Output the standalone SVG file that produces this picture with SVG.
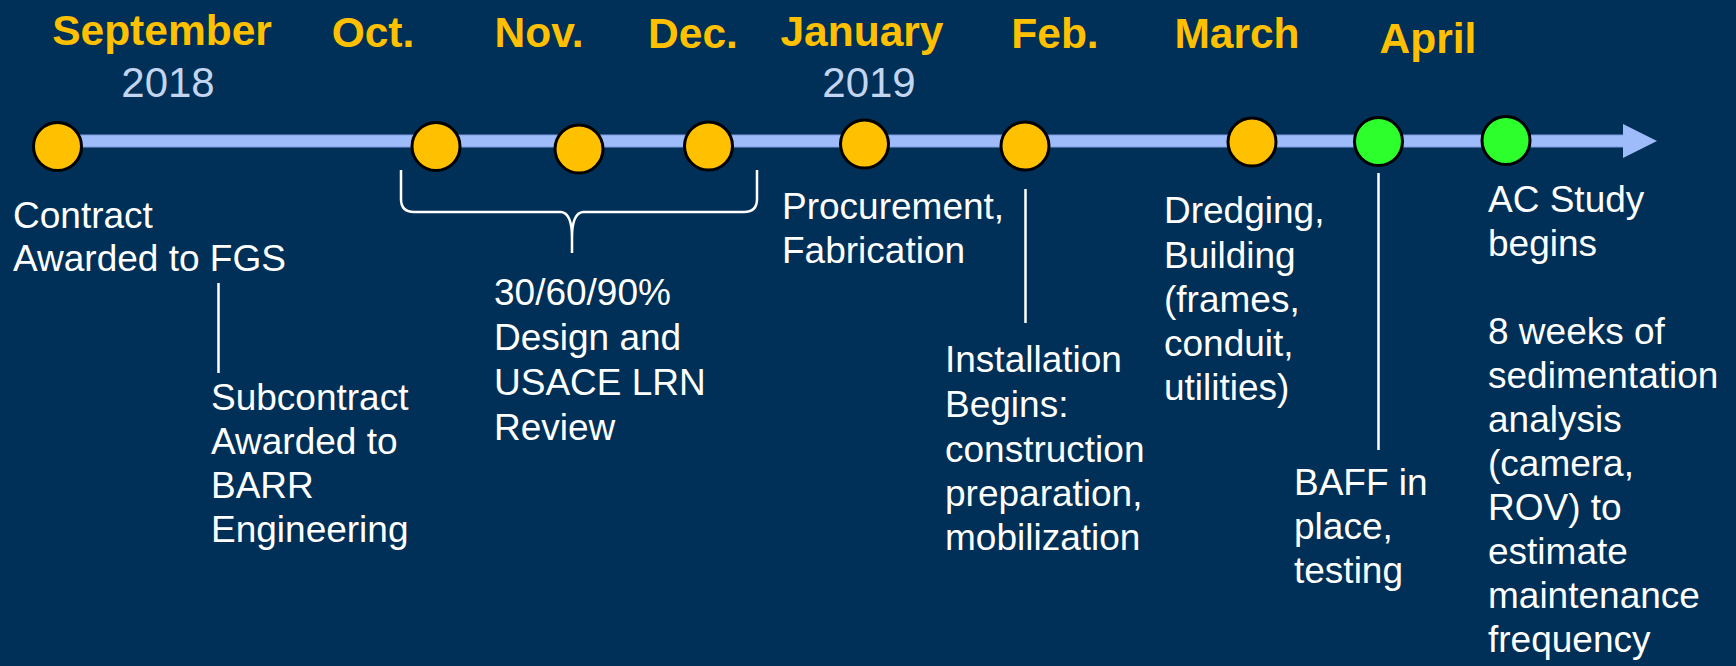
<svg xmlns="http://www.w3.org/2000/svg" width="1736" height="666" viewBox="0 0 1736 666">
  <style>
    .month { font-family: "Liberation Sans", Arial, sans-serif; font-weight: bold; font-size: 42.5px; fill: #FFC000; text-anchor: middle; }
    .year { font-family: "Liberation Sans", Arial, sans-serif; font-size: 42px; fill: #C3D5F1; text-anchor: middle; }
    .lbl { font-family: "Liberation Sans", Arial, sans-serif; font-size: 37px; fill: #FFFFFF; }
    .dot { stroke: #000000; stroke-width: 3; }
    .gold { fill: #FFC000; }
    .green { fill: #2CFF2C; }
    .conn { stroke: #FFFFFF; stroke-width: 2.5; fill: none; }
  </style>
  <rect x="0" y="0" width="1736" height="666" fill="#003057"/>

  <g id="timeline">
    <rect x="57" y="135" width="1567" height="12" fill="#9EBBFA" stroke="#7E9DE2" stroke-width="1"/>
    <polygon points="1623,124 1657,141 1623,158" fill="#9EBBFA"/>
  </g>

  <g id="connectors">
    <line class="conn" x1="218.5" y1="283" x2="218.5" y2="373"/>
    <path class="conn" d="M401,170 V199 Q401,212 414,212 H561 Q572,213 572,238 V253 M572,238 Q572,213 583,212 H744 Q757,212 757,199 V170"/>
    <line class="conn" x1="1025.5" y1="189" x2="1025.5" y2="323"/>
    <line class="conn" x1="1378.5" y1="173" x2="1378.5" y2="450"/>
  </g>

  <g id="node-sep">
    <text class="month" x="162" y="45">September</text>
    <text class="year" x="168" y="96.7">2018</text>
    <circle class="dot gold" cx="57.5" cy="146.5" r="24"/>
    <text class="lbl" x="13" y="227.7">Contract</text>
    <text class="lbl" x="13" y="270.5">Awarded to FGS</text>
  </g>

  <g id="node-subcontract">
    <text class="lbl" x="211" y="410">Subcontract</text>
    <text class="lbl" x="211" y="454">Awarded to</text>
    <text class="lbl" x="211" y="498">BARR</text>
    <text class="lbl" x="211" y="542">Engineering</text>
  </g>

  <g id="node-oct">
    <text class="month" x="373" y="47">Oct.</text>
    <circle class="dot gold" cx="436" cy="146.5" r="24"/>
  </g>

  <g id="node-nov">
    <text class="month" x="539" y="47">Nov.</text>
    <circle class="dot gold" cx="579" cy="149" r="24"/>
  </g>

  <g id="node-dec">
    <text class="month" x="693" y="47.5">Dec.</text>
    <circle class="dot gold" cx="708.5" cy="146" r="24"/>
  </g>

  <g id="node-design">
    <text class="lbl" x="494" y="305">30/60/90%</text>
    <text class="lbl" x="494" y="350">Design and</text>
    <text class="lbl" x="494" y="395">USACE LRN</text>
    <text class="lbl" x="494" y="440">Review</text>
  </g>

  <g id="node-jan">
    <text class="month" x="862" y="46">January</text>
    <text class="year" x="869" y="96.7">2019</text>
    <circle class="dot gold" cx="864.5" cy="144" r="24"/>
    <text class="lbl" x="782" y="219.3">Procurement,</text>
    <text class="lbl" x="782" y="263.3">Fabrication</text>
  </g>

  <g id="node-feb">
    <text class="month" x="1055" y="47.5">Feb.</text>
    <circle class="dot gold" cx="1025" cy="146" r="24"/>
    <text class="lbl" x="945" y="371.7">Installation</text>
    <text class="lbl" x="945" y="416.7">Begins:</text>
    <text class="lbl" x="945" y="461.7">construction</text>
    <text class="lbl" x="945" y="505.7">preparation,</text>
    <text class="lbl" x="945" y="549.7">mobilization</text>
  </g>

  <g id="node-mar">
    <text class="month" x="1237" y="47.5">March</text>
    <circle class="dot gold" cx="1252" cy="142" r="24"/>
    <text class="lbl" x="1164" y="223.3">Dredging,</text>
    <text class="lbl" x="1164" y="267.5">Building</text>
    <text class="lbl" x="1164" y="311.7">(frames,</text>
    <text class="lbl" x="1164" y="355.7">conduit,</text>
    <text class="lbl" x="1164" y="399.7">utilities)</text>
  </g>

  <g id="node-apr">
    <text class="month" x="1428" y="53">April</text>
    <circle class="dot green" cx="1378.5" cy="141.5" r="24"/>
    <text class="lbl" x="1294" y="495">BAFF in</text>
    <text class="lbl" x="1294" y="539">place,</text>
    <text class="lbl" x="1294" y="583">testing</text>
  </g>

  <g id="node-acstudy">
    <circle class="dot green" cx="1506" cy="140.5" r="24"/>
    <text class="lbl" x="1488" y="211.7">AC Study</text>
    <text class="lbl" x="1488" y="255.7">begins</text>
    <text class="lbl" x="1488" y="343.7">8 weeks of</text>
    <text class="lbl" x="1488" y="387.7">sedimentation</text>
    <text class="lbl" x="1488" y="431.7">analysis</text>
    <text class="lbl" x="1488" y="475.7">(camera,</text>
    <text class="lbl" x="1488" y="519.7">ROV) to</text>
    <text class="lbl" x="1488" y="563.7">estimate</text>
    <text class="lbl" x="1488" y="607.7">maintenance</text>
    <text class="lbl" x="1488" y="651.7">frequency</text>
  </g>
</svg>
